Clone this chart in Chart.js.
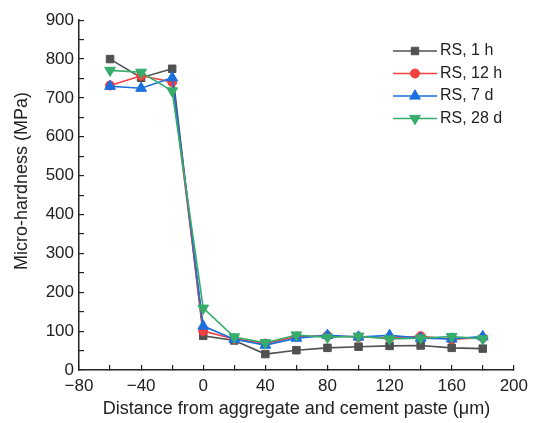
<!DOCTYPE html>
<html>
<head>
<meta charset="utf-8">
<script src="https://cdn.jsdelivr.net/npm/chart.js@4/dist/chart.umd.min.js"></script>
<style>
  html, body { margin: 0; padding: 0; background: #fff; }
  #wrap { width: 539px; height: 423px; }
</style>
</head>
<body>
<div id="wrap"><canvas id="hardness" width="539" height="423"></canvas></div>
<script>
// distances from the aggregate / paste interface (um)
const distances = [-60, -40, -20, 0, 20, 40, 60, 80, 100, 120, 140, 160, 180];

// micro-hardness (MPa) per curing age
const rs1h  = [800, 752, 775, 88, 76, 41, 51, 57, 60, 62, 63, 57, 55];
const rs12h = [732, 757, 741, 100, 80, 68, 86, 88, 85, 83, 87, 79, 83];
const rs7d  = [730, 725, 752, 113, 79, 64, 82, 89, 85, 89, 82, 80, 86];
const rs28d = [771, 766, 718, 159, 85, 70, 90, 84, 87, 80, 82, 86, 80];

const seriesNames = ['RS, 1 h', 'RS, 12 h', 'RS, 7 d', 'RS, 28 d'];

// labelled (major) ticks, minor ticks sit halfway between
const xMajorTicks = [-80, -40, 0, 40, 80, 120, 160, 200];
const yMajorTicks = [0, 100, 200, 300, 400, 500, 600, 700, 800, 900];

const xTitle = 'Distance from aggregate and cement paste (\u03bcm)';
const yTitle = 'Micro-hardness (MPa)';

const FONT = '"Liberation Sans", Arial, sans-serif';
const INK = '#222';

function series(label, values, color, style, radius, rotation, order) {
  return {
    label: label,
    data: distances.map((d, i) => ({ x: d, y: values[i] })),
    borderColor: color,
    backgroundColor: color,
    pointBackgroundColor: color,
    pointBorderColor: color,
    pointStyle: style,
    pointRadius: radius,
    pointHoverRadius: radius,
    pointRotation: rotation,
    pointBorderWidth: 1,
    borderWidth: 1.6,
    tension: 0,
    order: order
  };
}

// legend inside the plot (line + marker) and the rotated y title
const extras = {
  id: 'extras',
  afterDraw(chart) {
    const ctx = chart.ctx;
    const x0 = 393, y0 = 51, rowH = 22.5, lineLen = 44;
    chart.data.datasets.forEach((ds, i) => {
      const y = y0 + i * rowH;
      ctx.save();
      ctx.strokeStyle = ds.borderColor;
      ctx.lineWidth = ds.borderWidth;
      ctx.beginPath();
      ctx.moveTo(x0, y);
      ctx.lineTo(x0 + lineLen, y);
      ctx.stroke();
      ctx.fillStyle = ds.pointBackgroundColor;
      ctx.strokeStyle = ds.pointBorderColor;
      ctx.lineWidth = 1;
      if (Chart.helpers && Chart.helpers.drawPoint) {
        Chart.helpers.drawPoint(ctx, {
          pointStyle: ds.pointStyle,
          radius: ds.pointRadius,
          rotation: ds.pointRotation,
          borderWidth: 1
        }, x0 + lineLen / 2, y);
      }
      ctx.fillStyle = INK;
      ctx.font = '16px ' + FONT;
      ctx.textBaseline = 'middle';
      ctx.textAlign = 'left';
      ctx.fillText(ds.label, x0 + lineLen + 3, y);
      ctx.restore();
    });

    ctx.save();
    ctx.translate(22, 181);
    ctx.rotate(-Math.PI / 2);
    ctx.fillStyle = INK;
    ctx.font = '18px ' + FONT;
    ctx.textAlign = 'center';
    ctx.textBaseline = 'middle';
    ctx.fillText(yTitle, 0, 0);
    ctx.restore();
  }
};

const bg = {
  id: 'bg',
  beforeDraw(chart) {
    const ctx = chart.ctx;
    ctx.save();
    ctx.fillStyle = '#fff';
    ctx.fillRect(0, 0, chart.width, chart.height);
    ctx.restore();
  }
};

new Chart(document.getElementById('hardness'), {
  type: 'line',
  plugins: [bg, extras],
  data: {
    datasets: [
      series(seriesNames[0], rs1h, '#515151', 'rect', 5.3, 0, 4),
      series(seriesNames[1], rs12h, '#F14040', 'circle', 4.5, 0, 3),
      series(seriesNames[2], rs7d, '#1A6FDF', 'triangle', 6.2, 0, 2),
      series(seriesNames[3], rs28d, '#37AD6B', 'triangle', 6.2, 180, 1)
    ]
  },
  options: {
    responsive: false,
    animation: false,
    devicePixelRatio: 1,
    layout: { padding: { top: 20, right: 18, bottom: 0, left: 0 } },
    plugins: {
      legend: { display: false },
      tooltip: { enabled: false }
    },
    scales: {
      x: {
        type: 'linear',
        min: -80,
        max: 200,
        afterFit: (s) => { s.height = 53; },
        border: { color: INK, width: 1.5 },
        grid: { drawOnChartArea: false, tickLength: -5, color: INK, lineWidth: 1.2 },
        ticks: {
          stepSize: 20,
          autoSkip: false,
          maxRotation: 0,
          padding: 11,
          color: INK,
          font: { family: FONT, size: 17 },
          callback: (v) => xMajorTicks.includes(v) ? (v < 0 ? '\u2212' + Math.abs(v) : String(v)) : ''
        },
        title: {
          display: true,
          text: xTitle,
          color: INK,
          font: { family: FONT, size: 18 },
          padding: { top: 0, bottom: 3 }
        }
      },
      y: {
        min: 0,
        max: 900,
        afterFit: (s) => { s.width = 79; },
        border: { color: INK, width: 1.5 },
        grid: { drawOnChartArea: false, tickLength: -5, color: INK, lineWidth: 1.2 },
        ticks: {
          stepSize: 50,
          autoSkip: false,
          padding: 10,
          color: INK,
          font: { family: FONT, size: 17 },
          callback: (v) => yMajorTicks.includes(v) ? String(v) : ''
        }
      }
    }
  }
});
</script>
</body>
</html>
